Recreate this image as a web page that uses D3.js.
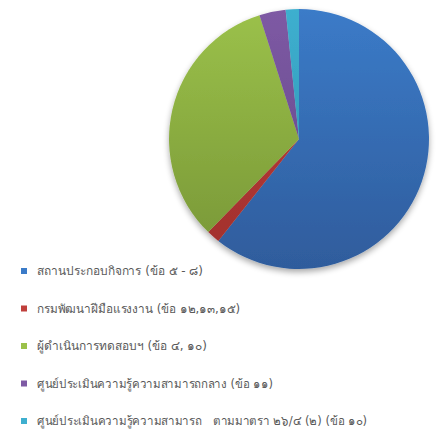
<!DOCTYPE html>
<html>
<head>
<meta charset="utf-8">
<script src="https://cdn.jsdelivr.net/npm/d3@7"></script>
<style>
  body { margin: 0; background: #fff; }
  svg { display: block; }
</style>
</head>
<body>
<div id="chart"></div>
<script>
var labels = [
    'สถานประกอบกิจการ (ข้อ ๕ - ๘)',
    'กรมพัฒนาฝีมือแรงงาน (ข้อ ๑๒,๑๓,๑๕)',
    'ผู้ดำเนินการทดสอบฯ (ข้อ ๔, ๑๐)',
    'ศูนย์ประเมินความรู้ความสามารถกลาง (ข้อ ๑๑)',
    'ศูนย์ประเมินความรู้ความสามารถ   ตามมาตรา ๒๖/๔ (๒) (ข้อ ๑๐)'
];
var values = [37, 1, 20, 2, 1];
var colors = ['#3b7bc8', '#c0403c', '#9bc14a', '#7e5aa4', '#3eafcf'];
var darkColors = ['#2f5c9c', '#a02f2c', '#779536', '#5f4385', '#2b8fae'];
var legendWidths = [166, 203, 170, 236, 330];

var width = 437, height = 434;
var cx = 299, cy = 139, r = 130;

var svg = d3.select('#chart')
    .append('svg')
    .attr('width', width)
    .attr('height', height);

var defs = svg.append('defs');

var shadow = defs.append('filter')
    .attr('id', 'shadow')
    .attr('x', '-20%').attr('y', '-20%')
    .attr('width', '140%').attr('height', '140%');
shadow.append('feGaussianBlur')
    .attr('in', 'SourceAlpha')
    .attr('stdDeviation', 3);
shadow.append('feOffset')
    .attr('dx', 0).attr('dy', 3)
    .attr('result', 'blur');
shadow.append('feComponentTransfer')
    .append('feFuncA').attr('type', 'linear').attr('slope', 0.35);
var merge = shadow.append('feMerge');
merge.append('feMergeNode');
merge.append('feMergeNode').attr('in', 'SourceGraphic');

colors.forEach(function(c, i) {
    var g = defs.append('linearGradient')
        .attr('id', 'grad' + i)
        .attr('gradientUnits', 'userSpaceOnUse')
        .attr('x1', 0).attr('y1', -r)
        .attr('x2', 0).attr('y2', r);
    g.append('stop').attr('offset', '0%').attr('stop-color', c);
    g.append('stop').attr('offset', '100%').attr('stop-color', darkColors[i]);
});

var pie = d3.pie().sort(null).value(function(d) { return d; });
var arc = d3.arc().innerRadius(0).outerRadius(r);

var g = svg.append('g')
    .attr('transform', 'translate(' + cx + ',' + cy + ')')
    .attr('filter', 'url(#shadow)');

g.selectAll('path')
    .data(pie(values))
    .enter()
    .append('path')
        .attr('d', arc)
        .attr('fill', function(d, i) { return 'url(#grad' + i + ')'; });

// legend
var y = d3.scalePoint()
    .domain(d3.range(labels.length))
    .range([271, 421]);

var legend = svg.selectAll('.legend')
    .data(labels)
    .enter()
    .append('g')
    .attr('class', 'legend')
    .attr('transform', function(d, i) { return 'translate(21,' + y(i) + ')'; });

legend.append('rect')
    .attr('x', 0).attr('y', -3)
    .attr('width', 6).attr('height', 6)
    .attr('fill', function(d, i) { return colors[i]; });

legend.append('text')
    .attr('x', 16)
    .attr('y', 0)
    .attr('dy', '0.35em')
    .style('font-family', 'Tahoma, "DejaVu Sans", sans-serif')
    .style('font-size', '12px')
    .style('fill', '#5a5a5a')
    .style('white-space', 'pre')
    .attr('textLength', function(d, i) { return legendWidths[i]; })
    .attr('lengthAdjust', 'spacingAndGlyphs')
    .text(function(d) { return d; });
</script>
</body>
</html>
